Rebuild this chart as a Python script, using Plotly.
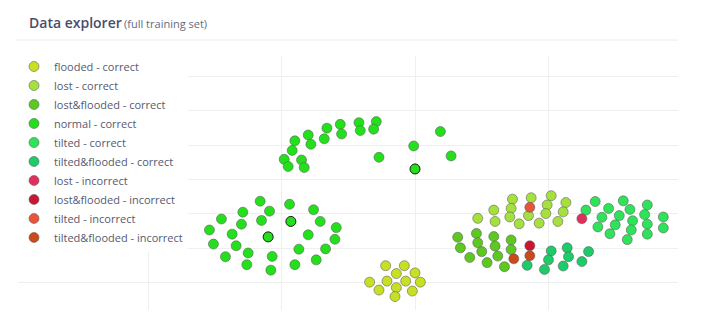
import plotly.graph_objects as go

# ---- data (embedding coordinates) ----
categories = [
    "flooded - correct", "lost - correct", "lost&flooded - correct",
    "normal - correct", "tilted - correct", "tilted&flooded - correct",
    "lost - incorrect", "lost&flooded - incorrect", "tilted - incorrect",
    "tilted&flooded - incorrect",
]
colors = ["#c8e024", "#a6e03c", "#5cc820", "#24e01c", "#2ee35a", "#1ccc68",
          "#e0305a", "#cc1530", "#e8553a", "#cc4a18"]

flooded_correct_x = [-2.2, -0.8, -1.4, 0.0, -3.4, -2.1, -0.7, 0.4, -2.7, -1.4, -0.2, -1.5]
flooded_correct_y = [-25.1, -25.1, -27.4, -27.2, -29.9, -29.6, -29.6, -29.9, -32.2, -31.5, -32.5, -34.1]

lost_correct_x = [7.3, 8.7, 10.2, 11.3, 5.9, 7.2, 9.9, 11.1, 4.7, 6.0, 7.1, 8.5, 9.8, 7.8, 9.3, 10.7]
lost_correct_y = [-5.7, -5.3, -4.7, -6.7, -8.9, -8.4, -7.4, -9.4, -11.3, -12.2, -10.9, -10.5, -9.9, -12.9, -12.7, -12.2]

lostflooded_correct_x = [3.2, 4.6, 5.9, 7.2, 3.4, 4.7, 6.0, 7.2, 5.0, 6.2, 4.1, 5.4, 6.7]
lostflooded_correct_y = [-16.8, -15.7, -16.6, -17.6, -19.9, -18.4, -19.4, -20.4, -21.0, -22.3, -22.7, -24.2, -25.4]

normal_correct_x = [-9.8, -9.5, -9.0, -9.2, -8.0, -7.8, -8.5, -8.3, -6.6, -6.8, -5.6, -5.5,
                    -4.2, -4.1, -2.9, -3.1, -2.7, -0.1, 0.0, 1.9, 2.7,
                    -11.6, -9.4, -12.9, -10.9, -7.6, -14.5, -11.5, -9.3, -13.0, -7.1, -5.9,
                    -15.4, -13.7, -11.0, -8.0, -6.0, -15.1, -13.4, -8.7, -6.7, -12.5,
                    -14.2, -10.7, -7.4, -12.6, -9.0, -10.8]
normal_correct_y = [5.9, 3.8, 11.3, 8.5, 13.0, 10.3, 5.7, 3.5, 15.0, 11.9, 16.1, 13.3,
                    16.6, 14.3, 16.9, 14.7, 6.5, 9.8, 3.1, 14.0, 6.9,
                    -6.3, -7.2, -9.5, -9.2, -8.8, -11.5, -11.9, -12.2, -13.0, -12.2, -14.0,
                    -14.7, -15.9, -16.7, -16.1, -17.4, -18.8, -19.3, -20.3, -20.2, -21.4,
                    -22.5, -22.4, -23.4, -24.8, -24.8, -26.4]
normal_selected = [18, 28, 34]  # points drawn with a dark outline

tilted_correct_x = [13.5, 15.6, 17.4, 12.8, 14.5, 16.1, 14.0, 15.3, 17.2, 18.6, 16.3, 13.7,
                    15.0, 17.4, 18.6, 16.2, 14.6, 17.4, 15.9]
tilted_correct_y = [-6.4, -6.2, -7.4, -8.9, -8.4, -8.7, -11.0, -10.5, -10.2, -10.9, -12.0, -13.8,
                    -13.2, -13.0, -14.1, -14.7, -15.8, -15.9, -17.5]

tiltedflooded_correct_x = [8.4, 10.2, 11.4, 13.0, 10.0, 11.5, 12.5, 9.7, 11.1]
tiltedflooded_correct_y = [-25.0, -20.8, -19.9, -21.0, -23.4, -22.5, -23.9, -26.2, -25.2]

lost_incorrect_x = [12.5]
lost_incorrect_y = [-11.4]
lostflooded_incorrect_x = [8.6]
lostflooded_incorrect_y = [-19.3]
tilted_incorrect_x = [8.6]
tilted_incorrect_y = [-8.1]
tiltedflooded_incorrect_x = [8.6, 7.4]
tiltedflooded_incorrect_y = [-22.2, -23.1]

series_x = [flooded_correct_x, lost_correct_x, lostflooded_correct_x, normal_correct_x,
            tilted_correct_x, tiltedflooded_correct_x, lost_incorrect_x,
            lostflooded_incorrect_x, tilted_incorrect_x, tiltedflooded_incorrect_x]
series_y = [flooded_correct_y, lost_correct_y, lostflooded_correct_y, normal_correct_y,
            tilted_correct_y, tiltedflooded_correct_y, lost_incorrect_y,
            lostflooded_incorrect_y, tilted_incorrect_y, tiltedflooded_incorrect_y]

OFF = 8  # page body margin
W, H = 711 - OFF, 335 - OFF
ML, MT = 18 - OFF, 56 - OFF
PW, PH = 660, 254
MR, MB = W - ML - PW, H - MT - PH

fig = go.Figure()
edge = "rgba(90,90,90,0.55)"
for name, col, xs, ys in zip(categories, colors, series_x, series_y):
    line_cols = [edge] * len(xs)
    if name == "normal - correct":
        for i in normal_selected:
            line_cols[i] = "rgba(20,20,20,0.95)"
    fig.add_trace(go.Scatter(
        x=xs, y=ys, mode="markers", name=name,
        marker=dict(size=10, color=col, line=dict(width=1, color=line_cols)),
    ))

def px_x(p):
    return (p - OFF - ML) / PW

def px_y(p):
    return (MT + PH - (p - OFF)) / PH

fig.add_annotation(text="Data explorer", xref="paper", yref="paper",
                   x=px_x(27), y=px_y(22), xanchor="left", yanchor="middle",
                   showarrow=False,
                   font=dict(family="Open Sans", size=14, color="#494d6c", weight=600))
fig.add_annotation(text="(full training set)", xref="paper", yref="paper",
                   x=px_x(122), y=px_y(23), xanchor="left", yanchor="middle",
                   showarrow=False,
                   font=dict(family="Open Sans", size=11, color="#666a80"))
fig.add_shape(type="line", xref="paper", yref="paper",
              x0=px_x(15), x1=px_x(678), y0=px_y(40), y1=px_y(40),
              line=dict(color="#ececec", width=1))

fig.update_xaxes(range=[-29.74, 19.70], dtick=10, showticklabels=False,
                 showgrid=True, gridcolor="#efefef", zeroline=False, showline=False)
fig.update_yaxes(range=[-38.02, 36.03], dtick=10, showticklabels=False,
                 showgrid=True, gridcolor="#efefef", zeroline=False, showline=False)

fig.update_layout(
    width=W, height=H,
    margin=dict(l=ML, r=MR, t=MT, b=MB, autoexpand=False),
    paper_bgcolor="white", plot_bgcolor="white",
    font=dict(family="Open Sans", size=11, color="#555a70"),
    showlegend=True,
    legend=dict(xref="paper", yref="paper", x=px_x(14), y=px_y(52),
                xanchor="left", yanchor="top", bgcolor="white", maxheight=300,
                font=dict(family="Open Sans", size=11, color="#555a70")),
)

fig.write_html("out.html")
